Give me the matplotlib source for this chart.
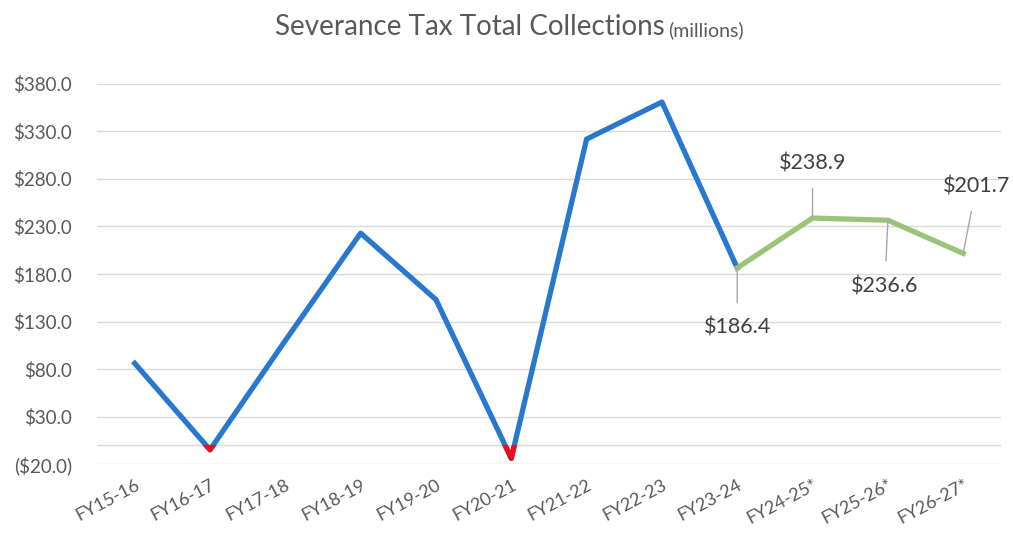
import matplotlib.pyplot as plt
from matplotlib.patches import Rectangle
from matplotlib.ticker import FuncFormatter

plt.rcParams['font.family'] = ['Lato', 'DejaVu Sans']

years = ['FY15-16', 'FY16-17', 'FY17-18', 'FY18-19', 'FY19-20', 'FY20-21',
         'FY21-22', 'FY22-23', 'FY23-24', 'FY24-25*', 'FY25-26*', 'FY26-27*']
actual = [86.0, -5.0, 110.0, 223.0, 153.0, -14.0, 322.0, 361.0, 186.4]
forecast = [186.4, 238.9, 236.6, 201.7]
yticks = [-20, 30, 80, 130, 180, 230, 280, 330, 380]

x = list(range(len(years)))
x_act = x[:len(actual)]
x_fc = x[len(actual) - 1:]

fig = plt.figure(figsize=(10.13, 5.35), dpi=100)
ax = fig.add_axes([0.0958, 0.1327, 0.8922, 0.7103])

ax.axhline(0, color='#d9d9d9', lw=1, zorder=1)
ax.plot(x_act, actual, color='#2878d0', lw=3.8, zorder=3)
# portion below zero drawn in red
neg, = ax.plot(x_act, actual, color='#e8101c', lw=3.8, zorder=4)
neg.set_clip_path(Rectangle((-1, -100), 20, 100, transform=ax.transData))
ax.plot(x_fc, forecast, color='#9bc47a', lw=3.8, zorder=3)

# data labels with leader lines (offsets in pixels)
offsets = [(0, -60), (0, 55), (-3, -66), (13, 67)]
for xi, v, (dx, dy) in zip(x_fc, forecast, offsets):
    ax.annotate(f'${v:.1f}', xy=(xi, v), xytext=(dx, dy), textcoords='offset pixels',
                ha='center', va='center', fontsize=15.5, color='#404040',
                annotation_clip=False,
                arrowprops=dict(arrowstyle='-', color='#a6a6a6', lw=1, shrinkA=9, shrinkB=0))

ax.set_xlim(-0.5, len(years) - 0.5)
ax.set_ylim(-20, 380)
ax.set_yticks(yticks)
ax.yaxis.set_major_formatter(FuncFormatter(lambda v, p: f'${v:.1f}' if v >= 0 else f'(${-v:.1f})'))
ax.set_xticks(x)
ax.set_xticklabels(years, rotation=28, ha='right', rotation_mode='anchor')
ax.grid(axis='y', color='#d9d9d9', lw=1)
ax.set_axisbelow(True)
for s in ax.spines.values():
    s.set_visible(False)
ax.tick_params(axis='both', length=0, colors='#595959')
ax.tick_params(axis='x', pad=9, labelsize=13)
ax.tick_params(axis='y', pad=18, labelsize=13.5)

fig.text(0.656, 0.95, 'Severance Tax Total Collections', ha='right', va='center',
         fontsize=20, color='#595959')
fig.text(0.660, 0.943, '(millions)', ha='left', va='center', fontsize=14, color='#595959')

fig.savefig('out.png', dpi=100)
